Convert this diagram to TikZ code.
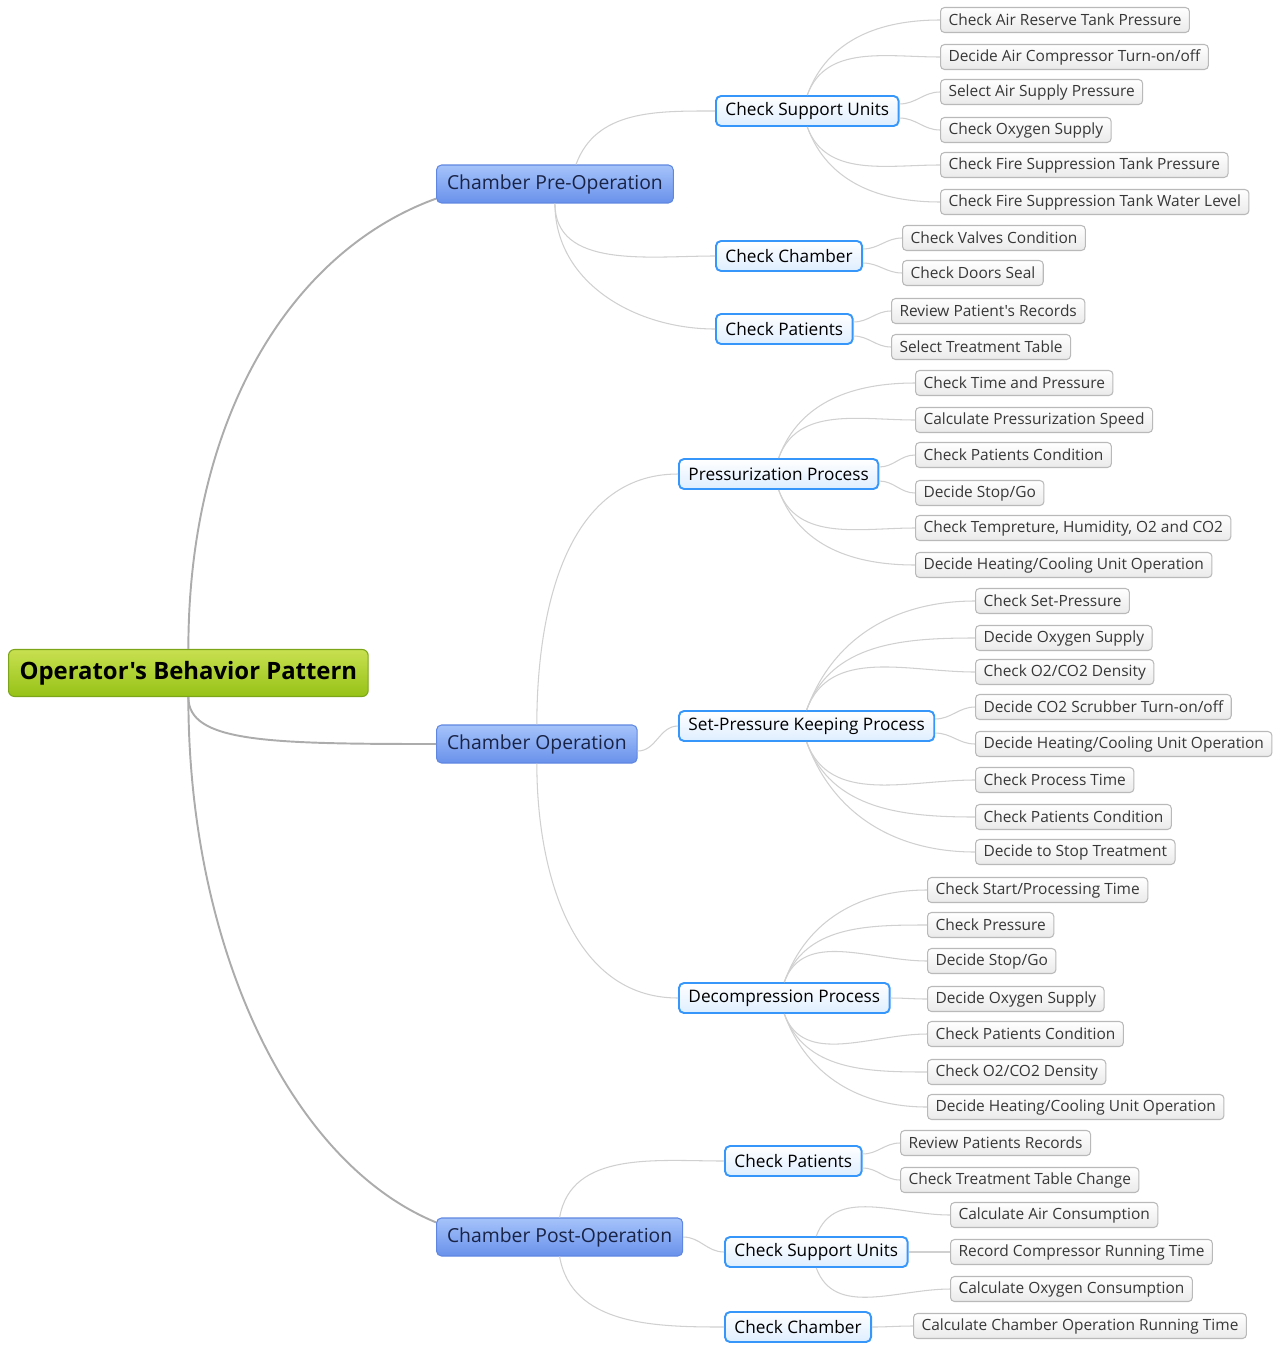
\documentclass[tikz,border=0pt]{standalone}
\usepackage{fontspec}
\setmainfont{Open Sans}[Ligatures=TeXOff]
\usepackage{xcolor}
\usepackage{tikz}
\usetikzlibrary{calc}

\definecolor{rootTop}{RGB}{200,224,80}
\definecolor{rootBottom}{RGB}{150,194,22}
\definecolor{rootLine}{RGB}{125,165,25}
\definecolor{mainTop}{RGB}{165,195,250}
\definecolor{mainBottom}{RGB}{105,145,235}
\definecolor{mainLine}{RGB}{95,135,225}
\definecolor{mainText}{RGB}{25,35,70}
\definecolor{subLine}{RGB}{55,150,250}
\definecolor{subBottom}{RGB}{222,238,255}
\definecolor{leafLine}{RGB}{185,185,185}
\definecolor{leafBottom}{RGB}{234,234,234}
\definecolor{leafText}{RGB}{55,55,55}
\definecolor{trunkLine}{RGB}{172,172,172}
\definecolor{twigLine}{RGB}{208,208,208}

\tikzstyle{tsBox} = [
    rectangle,
    anchor=west,
    inner ysep=0pt
]
\tikzstyle{tsRoot} = [
    tsBox,
    rounded corners=0.12cm,
    draw=rootLine,
    line width=0.6pt,
    top color=rootTop,
    bottom color=rootBottom,
    minimum height=0.94cm,
    inner xsep=0.22cm,
    text=black,
    font=\fontsize{13.6}{16}\selectfont\bfseries
]
\tikzstyle{tsMain} = [
    tsBox,
    rounded corners=0.1cm,
    draw=mainLine,
    line width=0.6pt,
    top color=mainTop,
    bottom color=mainBottom,
    minimum height=0.76cm,
    inner xsep=0.21cm,
    text=mainText,
    font=\fontsize{11}{13}\selectfont
]
\tikzstyle{tsSub} = [
    tsBox,
    rounded corners=0.1cm,
    draw=subLine,
    line width=1.1pt,
    top color=white,
    bottom color=subBottom,
    minimum height=0.6cm,
    inner xsep=0.19cm,
    text=black,
    font=\fontsize{9.8}{12}\selectfont
]
\tikzstyle{tsLeaf} = [
    tsBox,
    rounded corners=0.08cm,
    draw=leafLine,
    line width=0.6pt,
    top color=white,
    bottom color=leafBottom,
    minimum height=0.5cm,
    inner xsep=0.16cm,
    text=leafText,
    font=\fontsize{8.8}{11}\selectfont
]
\tikzstyle{tsTrunk} = [
    draw=trunkLine,
    line width=1.1pt
]
\tikzstyle{tsTwig} = [
    draw=twigLine,
    line width=0.6pt
]

\begin{document}
\begin{tikzpicture}[x=0.02cm, y=-0.02cm]

        \useasboundingbox (0,0) rectangle (1282,1345);

        % root and main phases
        \node[tsRoot] (pattern) at (8,673) {Operator's Behavior Pattern};
        \node[tsMain] (preop) at (436,184) {Chamber Pre-Operation};
        \node[tsMain] (operation) at (436,744) {Chamber Operation};
        \node[tsMain] (postop) at (436,1237) {Chamber Post-Operation};

        % sub tasks
        \node[tsSub] (preSupport) at (715,111) {Check Support Units};
        \node[tsSub] (preChamber) at (715,256) {Check Chamber};
        \node[tsSub] (prePatients) at (715,329) {Check Patients};
        \node[tsSub] (pressurization) at (678,474) {Pressurization Process};
        \node[tsSub] (keeping) at (678,726) {Set-Pressure Keeping Process};
        \node[tsSub] (decompression) at (678,998) {Decompression Process};
        \node[tsSub] (postPatients) at (724,1161) {Check Patients};
        \node[tsSub] (postSupport) at (724,1252) {Check Support Units};
        \node[tsSub] (postChamber) at (724,1327) {Check Chamber};

        % pre-operation leaves
        \node[tsLeaf] (airTank) at (940,20) {Check Air Reserve Tank Pressure};
        \node[tsLeaf] (compressor) at (940,57) {Decide Air Compressor Turn-on/off};
        \node[tsLeaf] (airSupply) at (940,92) {Select Air Supply Pressure};
        \node[tsLeaf] (oxygen) at (940,130) {Check Oxygen Supply};
        \node[tsLeaf] (fireTank) at (940,165) {Check Fire Suppression Tank Pressure};
        \node[tsLeaf] (fireWater) at (940,202) {Check Fire Suppression Tank Water Level};
        \node[tsLeaf] (valves) at (902,238) {Check Valves Condition};
        \node[tsLeaf] (doors) at (902,273) {Check Doors Seal};
        \node[tsLeaf] (records) at (891,311) {Review Patient's Records};
        \node[tsLeaf] (table) at (891,347) {Select Treatment Table};

        % operation leaves
        \node[tsLeaf] (timePressure) at (915,383) {Check Time and Pressure};
        \node[tsLeaf] (speed) at (915,420) {Calculate Pressurization Speed};
        \node[tsLeaf] (pressCondition) at (915,455) {Check Patients Condition};
        \node[tsLeaf] (pressStop) at (915,493) {Decide Stop/Go};
        \node[tsLeaf] (climate) at (915,528) {Check Tempreture, Humidity, O2 and CO2};
        \node[tsLeaf] (pressHeating) at (915,565) {Decide Heating/Cooling Unit Operation};
        \node[tsLeaf] (setPressure) at (975,601) {Check Set-Pressure};
        \node[tsLeaf] (keepOxygen) at (975,638) {Decide Oxygen Supply};
        \node[tsLeaf] (keepDensity) at (975,672) {Check O2/CO2 Density};
        \node[tsLeaf] (scrubber) at (975,707) {Decide CO2 Scrubber Turn-on/off};
        \node[tsLeaf] (keepHeating) at (975,744) {Decide Heating/Cooling Unit Operation};
        \node[tsLeaf] (processTime) at (975,780) {Check Process Time};
        \node[tsLeaf] (keepCondition) at (975,817) {Check Patients Condition};
        \node[tsLeaf] (stopTreatment) at (975,852) {Decide to Stop Treatment};
        \node[tsLeaf] (startTime) at (927,890) {Check Start/Processing Time};
        \node[tsLeaf] (decPressure) at (927,925) {Check Pressure};
        \node[tsLeaf] (decStop) at (927,961) {Decide Stop/Go};
        \node[tsLeaf] (decOxygen) at (927,999) {Decide Oxygen Supply};
        \node[tsLeaf] (decCondition) at (927,1034) {Check Patients Condition};
        \node[tsLeaf] (decDensity) at (927,1072) {Check O2/CO2 Density};
        \node[tsLeaf] (decHeating) at (927,1107) {Decide Heating/Cooling Unit Operation};

        % post-operation leaves
        \node[tsLeaf] (postRecords) at (900,1143) {Review Patients Records};
        \node[tsLeaf] (tableChange) at (900,1180) {Check Treatment Table Change};
        \node[tsLeaf] (airConsumption) at (950,1215) {Calculate Air Consumption};
        \node[tsLeaf] (compressorTime) at (950,1252) {Record Compressor Running Time};
        \node[tsLeaf] (oxygenConsumption) at (950,1289) {Calculate Oxygen Consumption};
        \node[tsLeaf] (runningTime) at (913,1326) {Calculate Chamber Operation Running Time};

        % trunk
        \draw[tsTrunk] (pattern.north) .. controls +(0,-230) and +(-146,53) .. ($(preop.west)!0.75!(preop.south west)$);
        \draw[tsTrunk] (pattern.south) .. controls +(0,45) and +(-170,0) .. (operation.west);
        \draw[tsTrunk] (pattern.south) .. controls +(0,250) and +(-146,-60) .. ($(postop.west)!0.75!(postop.north west)$);

        % phases to sub tasks
        \draw[tsTwig] ([xshift=12pt]preop.north) to[out=70, in=180] (preSupport.west);
        \draw[tsTwig] (preop.south) to[out=-90, in=180] (preChamber.west);
        \draw[tsTwig] (preop.south) to[out=-90, in=180] (prePatients.west);
        \draw[tsTwig] (operation.north) to[out=90, in=180] (pressurization.west);
        \draw[tsTwig] ([yshift=-4pt]operation.east) to[out=0, in=180] (keeping.west);
        \draw[tsTwig] (operation.south) to[out=-90, in=180] (decompression.west);
        \draw[tsTwig] (postop.north) to[out=80, in=180] (postPatients.west);
        \draw[tsTwig] (postop.east) to[out=0, in=180] (postSupport.west);
        \draw[tsTwig] (postop.south) to[out=-80, in=180] (postChamber.west);

        % sub tasks to leaves
        \draw[tsTwig] (preSupport.north) to[out=70, in=180] (airTank.west);
        \draw[tsTwig] (preSupport.north) to[out=70, in=180] (compressor.west);
        \draw[tsTwig] ([yshift=4pt]preSupport.east) to[out=0, in=180] (airSupply.west);
        \draw[tsTwig] ([yshift=-4pt]preSupport.east) to[out=0, in=180] (oxygen.west);
        \draw[tsTwig] (preSupport.south) to[out=-70, in=180] (fireTank.west);
        \draw[tsTwig] (preSupport.south) to[out=-70, in=180] (fireWater.west);
        \draw[tsTwig] ([yshift=4pt]preChamber.east) to[out=0, in=180] (valves.west);
        \draw[tsTwig] ([yshift=-4pt]preChamber.east) to[out=0, in=180] (doors.west);
        \draw[tsTwig] ([yshift=4pt]prePatients.east) to[out=0, in=180] (records.west);
        \draw[tsTwig] ([yshift=-4pt]prePatients.east) to[out=0, in=180] (table.west);

        \draw[tsTwig] (pressurization.north) to[out=70, in=180] (timePressure.west);
        \draw[tsTwig] (pressurization.north) to[out=70, in=180] (speed.west);
        \draw[tsTwig] ([yshift=4pt]pressurization.east) to[out=0, in=180] (pressCondition.west);
        \draw[tsTwig] ([yshift=-4pt]pressurization.east) to[out=0, in=180] (pressStop.west);
        \draw[tsTwig] (pressurization.south) to[out=-70, in=180] (climate.west);
        \draw[tsTwig] (pressurization.south) to[out=-70, in=180] (pressHeating.west);

        \draw[tsTwig] (keeping.north) to[out=70, in=180] (setPressure.west);
        \draw[tsTwig] (keeping.north) to[out=70, in=180] (keepOxygen.west);
        \draw[tsTwig] (keeping.north) to[out=70, in=180] (keepDensity.west);
        \draw[tsTwig] ([yshift=4pt]keeping.east) to[out=0, in=180] (scrubber.west);
        \draw[tsTwig] ([yshift=-4pt]keeping.east) to[out=0, in=180] (keepHeating.west);
        \draw[tsTwig] (keeping.south) to[out=-70, in=180] (processTime.west);
        \draw[tsTwig] (keeping.south) to[out=-70, in=180] (keepCondition.west);
        \draw[tsTwig] (keeping.south) to[out=-70, in=180] (stopTreatment.west);

        \draw[tsTwig] (decompression.north) to[out=70, in=180] (startTime.west);
        \draw[tsTwig] (decompression.north) to[out=70, in=180] (decPressure.west);
        \draw[tsTwig] (decompression.north) to[out=70, in=180] (decStop.west);
        \draw[tsTwig] (decompression.east) to[out=0, in=180] (decOxygen.west);
        \draw[tsTwig] (decompression.south) to[out=-70, in=180] (decCondition.west);
        \draw[tsTwig] (decompression.south) to[out=-70, in=180] (decDensity.west);
        \draw[tsTwig] (decompression.south) to[out=-70, in=180] (decHeating.west);

        \draw[tsTwig] ([yshift=4pt]postPatients.east) to[out=0, in=180] (postRecords.west);
        \draw[tsTwig] ([yshift=-4pt]postPatients.east) to[out=0, in=180] (tableChange.west);
        \draw[tsTwig] (postSupport.north) to[out=70, in=180] (airConsumption.west);
        \draw[tsTwig] (postSupport.east) to[out=0, in=180] (compressorTime.west);
        \draw[tsTwig] (postSupport.south) to[out=-70, in=180] (oxygenConsumption.west);
        \draw[tsTwig] (postChamber.east) to[out=0, in=180] (runningTime.west);

    \end{tikzpicture}
\end{document}
